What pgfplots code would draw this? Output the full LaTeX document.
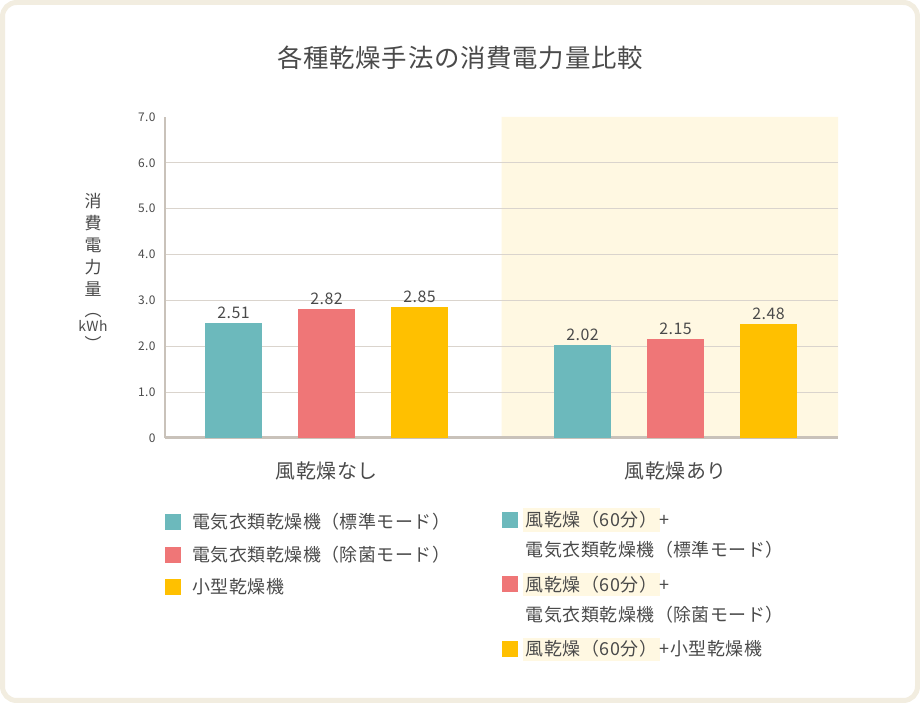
\documentclass[border=0pt]{standalone}
\usepackage{pgfplots}
\pgfplotsset{compat=1.18}
\usepackage{fontspec}
\setmainfont{Noto Sans CJK JP}[LetterSpace=3]
\definecolor{framec}{HTML}{F2EDE0}
\definecolor{hl}{HTML}{FFF8E2}
\definecolor{cteal}{HTML}{6CB9BC}
\definecolor{cpink}{HTML}{EF7677}
\definecolor{cyel}{HTML}{FFC000}
\definecolor{txt}{HTML}{4A4A4A}
\definecolor{gridc}{HTML}{DAD4CD}
\definecolor{axc}{HTML}{C9C2BA}
\newcommand{\hlbox}[1]{{\setlength{\fboxsep}{3bp}\colorbox{hl}{#1}}}
\newcommand{\twoline}[2]{\vtop{\baselineskip=30bp\lineskiplimit=0pt\lineskip=0pt\hbox{#1}\hbox{\hspace{3bp}#2}}}
\pgfplotsset{
  base/.style={
    scale only axis, width=673bp, height=321bp,
    xmin=0, xmax=673, ymin=0, ymax=7,
    at={(165bp,265bp)}, anchor=south west,
    clip=false,
    legend cell align=left,
    legend image code/.code={\fill[##1] (0bp,-1bp) rectangle (16bp,15bp);},
    legend style={draw=none, fill=none, inner sep=0pt, anchor=north west,
      cells={anchor=base west},
      nodes={inner sep=0pt, text depth=, text height=, font=\fontsize{18}{22}\selectfont, text=txt}},
  },
  bars/.style={ybar, bar width=57, bar shift=0pt, draw=none, fill=#1,
    nodes near coords,
    nodes near coords style={font=\fontsize{16}{18}\selectfont, text=txt, inner sep=4bp,
      /pgf/number format/fixed, /pgf/number format/precision=2,
      /pgf/number format/fixed zerofill, /pgf/number format/assume math mode=true}},
}
\begin{document}
\begin{tikzpicture}
\draw[framec, line width=5bp, fill=white, rounded corners=14bp] (2.5bp,2.5bp) rectangle (917.5bp,700.5bp);
\node[text=txt, font=\fontsize{25.5}{28}\selectfont] at (460bp,645bp) {各種乾燥手法の消費電力量比較};
\node[text=txt, align=center, font=\fontsize{17}{22}\selectfont] at (93bp,431bp)
  {消\\費\\電\\力\\量\\[0bp]︵\\[-7bp]{\fontsize{14}{16}\selectfont kWh}\\[-3bp]︶};

% highlight band behind the right group
\begin{axis}[base, hide axis]
\addplot[fill=hl, draw=none]
  coordinates {(336.5,0) (336.5,7) (673,7) (673,0)} \closedcycle;
\end{axis}

\begin{axis}[base,
  axis x line*=bottom, axis y line*=left,
  axis line style={axc, -},
  x axis line style={line width=3bp},
  y axis line style={line width=1.5bp},
  major tick length=0pt,
  ymajorgrids, grid style={gridc, line width=1bp},
  ytick={0,1,2,3,4,5,6}, yticklabels={0,1.0,2.0,3.0,4.0,5.0,6.0},
  extra y ticks={7}, extra y tick labels={7.0}, extra y tick style={grid=none},
  yticklabel style={font=\fontsize{12}{14}\selectfont, text=txt, xshift=-6bp},
  xtick={161.5,510.5}, xticklabels={風乾燥なし,風乾燥あり},
  xticklabel style={font=\fontsize{20}{24}\selectfont, text=txt, yshift=-20bp},
  legend style={at={(0,-0.235)}, row sep=15.5bp, column sep=11bp},
]
\addplot[bars=cteal] coordinates {(68.5,2.51)};
\addlegendentry{電気衣類乾燥機（標準モード）}
\addplot[bars=cpink] coordinates {(161.5,2.82)};
\addlegendentry{電気衣類乾燥機（除菌モード）}
\addplot[bars=cyel] coordinates {(254.5,2.85)};
\addlegendentry{小型乾燥機}
\end{axis}

\begin{axis}[base, hide axis,
  legend style={at={(0.5,-0.219)}, row sep=14.5bp, column sep=5bp},
]
\addplot[bars=cteal] coordinates {(417.5,2.02)};
\addlegendentry{\twoline{\hlbox{風乾燥（60分）}+}{電気衣類乾燥機（標準モード）}}
\addplot[bars=cpink] coordinates {(510.5,2.15)};
\addlegendentry{\twoline{\hlbox{風乾燥（60分）}+}{電気衣類乾燥機（除菌モード）}}
\addplot[bars=cyel] coordinates {(603.5,2.48)};
\addlegendentry{\hlbox{風乾燥（60分）}+小型乾燥機}
\end{axis}
\end{tikzpicture}
\end{document}
